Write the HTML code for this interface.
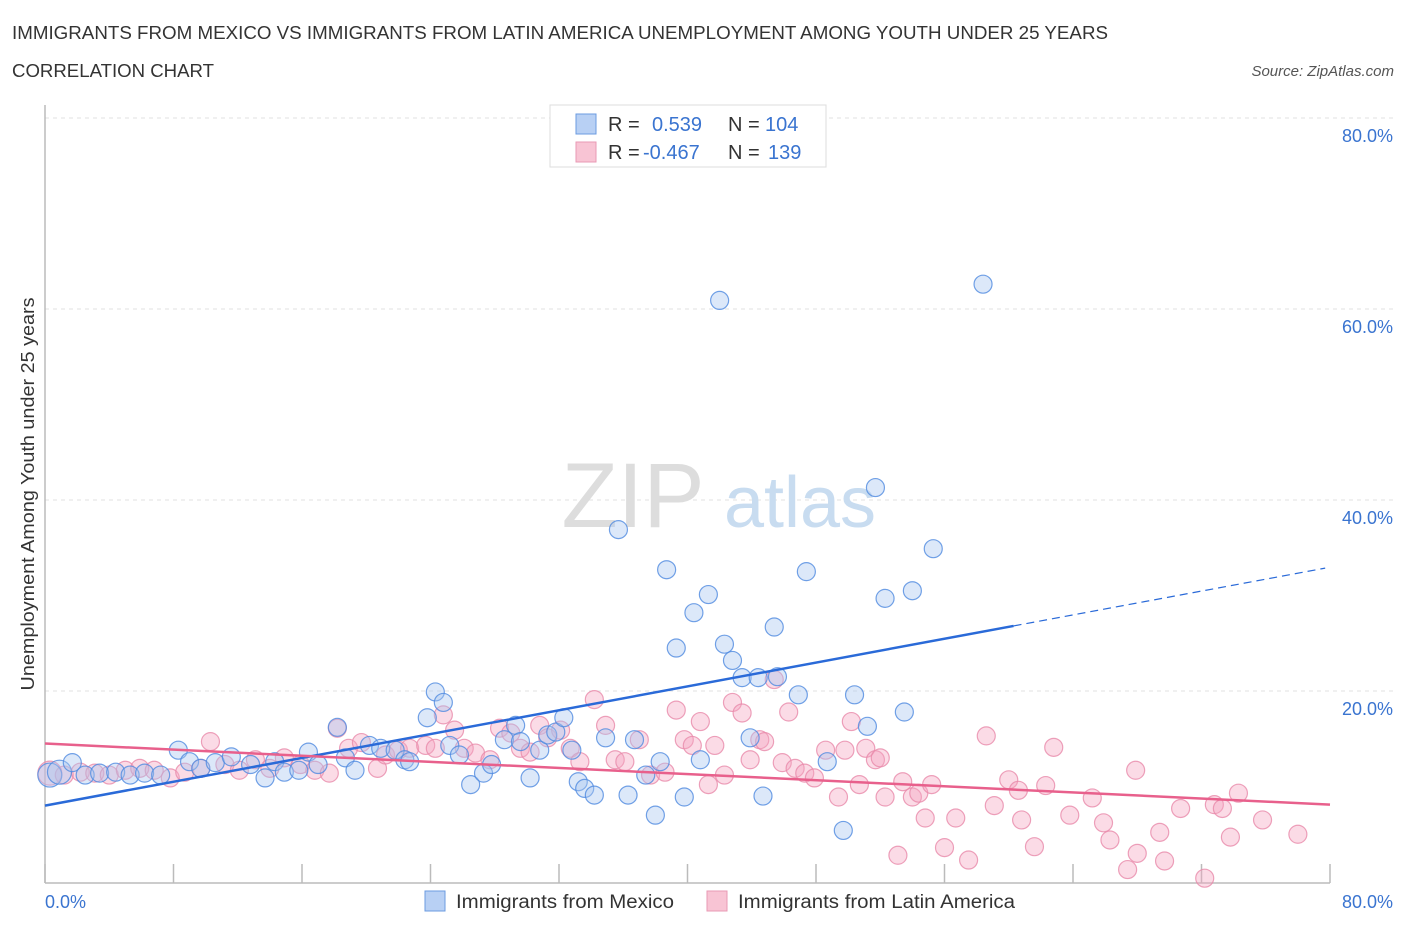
<!DOCTYPE html>
<html><head><meta charset="utf-8"><style>
body{margin:0;background:#fff;font-family:"Liberation Sans",sans-serif;}
svg text{font-family:"Liberation Sans",sans-serif;}
</style></head><body>
<svg width="1406" height="930" viewBox="0 0 1406 930" xmlns="http://www.w3.org/2000/svg">
<text x="12" y="39" font-size="18" fill="#333" textLength="1096" lengthAdjust="spacingAndGlyphs">IMMIGRANTS FROM MEXICO VS IMMIGRANTS FROM LATIN AMERICA UNEMPLOYMENT AMONG YOUTH UNDER 25 YEARS</text>
<text x="12" y="77" font-size="18" fill="#333" textLength="202" lengthAdjust="spacingAndGlyphs">CORRELATION CHART</text>
<text x="1394" y="76" font-size="15" fill="#555" font-style="italic" text-anchor="end">Source: ZipAtlas.com</text>
<g id="grid"></g>
<g><text x="633" y="527" font-size="92" fill="#ddd" font-family="Liberation Serif" text-anchor="middle">ZIP</text><text x="800" y="527" font-size="72" fill="#c8dcf0" text-anchor="middle">atlas</text></g>
<line x1="45" y1="105" x2="45" y2="883" stroke="#bbb" stroke-width="1.5"/>
<line x1="45" y1="883" x2="1330" y2="883" stroke="#bbb" stroke-width="1.5"/>
<g id="xticks"></g>
<g id="pts"></g>
<g id="trends"></g>
<text x="45" y="908" font-size="18" fill="#3a74d0">0.0%</text>
<text x="1393" y="908" font-size="18" fill="#3a74d0" text-anchor="end">80.0%</text>
<text transform="translate(34,494) rotate(-90)" font-size="18" fill="#333" text-anchor="middle" textLength="393" lengthAdjust="spacingAndGlyphs">Unemployment Among Youth under 25 years</text>
<g>
<rect x="550" y="105" width="276" height="62" fill="#fff" stroke="#ddd"/>
<rect x="576" y="114" width="20" height="20" fill="#b8d0f4" stroke="#6b9be0"/>
<rect x="576" y="142" width="20" height="20" fill="#f8c4d4" stroke="#e99ab4"/>
<text x="608" y="131" font-size="20" fill="#333">R = <tspan fill="#3a74d0" x="652">0.539</tspan><tspan x="728">N = </tspan><tspan fill="#3a74d0" x="765">104</tspan></text>
<text x="608" y="159" font-size="20" fill="#333">R = <tspan fill="#3a74d0" x="643">-0.467</tspan><tspan x="728">N = </tspan><tspan fill="#3a74d0" x="768">139</tspan></text>
</g>
<g>
<rect x="425" y="891" width="20" height="20" fill="#b8d0f4" stroke="#6b9be0"/>
<text x="456" y="908" font-size="19" fill="#333" textLength="218" lengthAdjust="spacingAndGlyphs">Immigrants from Mexico</text>
<rect x="707" y="891" width="20" height="20" fill="#f8c4d4" stroke="#e99ab4"/>
<text x="738" y="908" font-size="19" fill="#333" textLength="277" lengthAdjust="spacingAndGlyphs">Immigrants from Latin America</text>
</g>
</svg>
<script>
const yTicks=[20,40,60,80];
const yTickLabels=["20.0%","40.0%","60.0%","80.0%"];
const xTicks=[0,8,16,24,32,40,48,56,64,72,80];
const mexX=[0.3,0.9,1.7,2.5,3.4,4.4,5.3,6.2,7.2,8.3,9.0,9.7,10.6,11.6,12.8,13.7,14.3,14.9,15.8,16.4,17.0,18.2,18.7,19.3,20.2,20.9,21.8,22.4,22.7,23.8,24.3,24.8,25.2,25.8,26.5,27.3,27.8,28.6,29.3,29.6,30.2,30.8,31.3,31.8,32.3,32.8,33.2,33.6,34.2,34.9,35.7,36.3,36.7,37.4,38.0,38.3,38.7,39.3,39.8,40.4,40.8,41.3,42.0,42.3,42.8,43.4,43.9,44.4,44.7,45.4,45.6,46.9,47.4,48.7,49.7,50.4,51.2,51.7,52.3,53.5,54.0,55.3,58.4];
const mexY=[11.2,11.5,12.5,11.2,11.4,11.5,11.2,11.4,11.2,13.8,12.6,11.9,12.5,13.1,12.3,10.9,12.6,11.5,11.7,13.6,12.3,16.2,13.0,11.7,14.3,14.0,13.8,12.8,12.6,17.2,19.9,18.8,14.3,13.3,10.2,11.4,12.3,14.9,16.4,14.7,10.9,13.8,15.4,15.7,17.2,13.8,10.5,9.8,9.1,15.1,36.9,9.1,14.9,11.2,7.0,12.6,32.7,24.5,8.9,28.2,12.8,30.1,60.9,24.9,23.2,21.4,15.1,21.4,9.0,26.7,21.5,19.6,32.5,12.6,5.4,19.6,16.3,41.3,29.7,17.8,30.5,34.9,62.6];
const latX=[0.3,1.2,2.2,3.1,4.0,5.0,5.9,6.8,7.8,8.7,9.7,10.3,11.2,12.1,13.1,14.0,14.9,15.9,16.8,17.7,18.2,18.9,19.7,20.7,21.2,22.0,22.7,23.7,24.3,24.8,25.5,26.1,26.8,27.7,28.3,29.0,29.6,30.2,30.8,31.3,32.1,32.7,33.3,34.2,34.9,35.5,36.1,37.0,37.7,38.6,39.3,39.8,40.3,40.8,41.3,41.7,42.3,42.8,43.4,43.9,44.5,44.8,45.4,45.9,46.3,46.7,47.3,47.9,48.6,49.4,49.8,50.2,50.7,51.1,51.7,52.0,52.3,53.1,53.4,54.0,54.4,54.8,55.2,56.0,56.7,57.5,58.6,59.1,60.0,60.6,60.8,61.6,62.3,62.8,63.8,65.2,65.9,66.3,67.4,67.9,68.0,69.4,69.7,70.7,72.2,72.8,73.3,73.8,74.3,75.8,78.0];
const latY=[11.4,11.2,11.5,11.4,11.2,11.7,11.9,11.7,10.9,11.5,11.9,14.7,12.3,11.7,12.8,11.9,13.0,12.3,11.7,11.4,16.1,14.0,14.6,11.9,13.3,13.8,14.0,14.3,14.0,17.5,15.9,14.0,13.5,12.8,16.1,15.6,14.0,13.6,16.4,15.1,15.9,14.0,12.6,19.1,16.4,12.8,12.6,14.9,11.2,11.5,18.0,14.9,14.3,16.8,10.2,14.3,11.2,18.8,17.7,12.8,14.9,14.7,21.2,12.5,17.8,11.9,11.4,10.9,13.8,8.9,13.8,16.8,10.2,14.0,12.8,13.0,8.9,2.8,10.5,8.9,9.3,6.7,10.2,3.6,6.7,2.3,15.3,8.0,10.7,9.6,6.5,3.7,10.1,14.1,7.0,8.8,6.2,4.4,1.3,11.7,3.0,5.2,2.2,7.7,0.4,8.1,7.7,4.7,9.3,6.5,5.0];
const mexTrend=[8.0,0.312]; // intercept, slope
const latTrend=[14.5,-0.08];
const mexSolidEnd=60.3, mexDashEnd=79.7;

const NS="http://www.w3.org/2000/svg";
function X(v){return 45+v*(1285/80);}
function Y(v){return 882-v*9.55;}
function mk(tag,attrs,parent){const e=document.createElementNS(NS,tag);for(const k in attrs)e.setAttribute(k,attrs[k]);parent.appendChild(e);return e;}
const grid=document.getElementById('grid');
yTicks.forEach((t,i)=>{
  const l=mk('line',{x1:45,x2:1395,y1:Y(t),y2:Y(t),stroke:'#e2e2e2','stroke-dasharray':'4,4'},grid);
  
  
  const tx=mk('text',{x:1393,y:Y(t)+24,'font-size':18,fill:'#3a74d0','text-anchor':'end'},grid);
  tx.textContent=yTickLabels[i];
  
  
});
const xt=document.getElementById('xticks');
xTicks.forEach(t=>{
  const l=mk('line',{x1:X(t),x2:X(t),y1:864,y2:883,stroke:'#bbb','stroke-width':1.5},xt);
  
  
});
const pts=document.getElementById('pts');
function drawPts(xs,ys,fill,stroke,name){
  xs.forEach((x,i)=>{
    const r=x<1?12:9;
    const c=mk('circle',{cx:X(x),cy:Y(ys[i]),r:r,fill:fill,'fill-opacity':0.4,stroke:stroke,'stroke-width':1.2,'stroke-opacity':0.8},pts);
    
    
  });
}
drawPts(latX,latY,'#f4a6c0','#e88aaa','point-latin-america');
drawPts(mexX,mexY,'#a8c6f0','#4f8ae0','point-mexico');
const tr=document.getElementById('trends');
const f=(t,x)=>t[0]+t[1]*x;
let l=mk('line',{x1:X(0),y1:Y(f(mexTrend,0)),x2:X(mexSolidEnd),y2:Y(f(mexTrend,mexSolidEnd)),stroke:'#2a6ad8','stroke-width':2.5},tr);


l=mk('line',{x1:X(mexSolidEnd),y1:Y(f(mexTrend,mexSolidEnd)),x2:X(mexDashEnd),y2:Y(f(mexTrend,mexDashEnd)),stroke:'#2a6ad8','stroke-width':1.2,'stroke-dasharray':'8,5'},tr);


l=mk('line',{x1:X(0),y1:Y(f(latTrend,0)),x2:X(80),y2:Y(f(latTrend,80)),stroke:'#e8608c','stroke-width':2.5},tr);


</script>
</body></html>
